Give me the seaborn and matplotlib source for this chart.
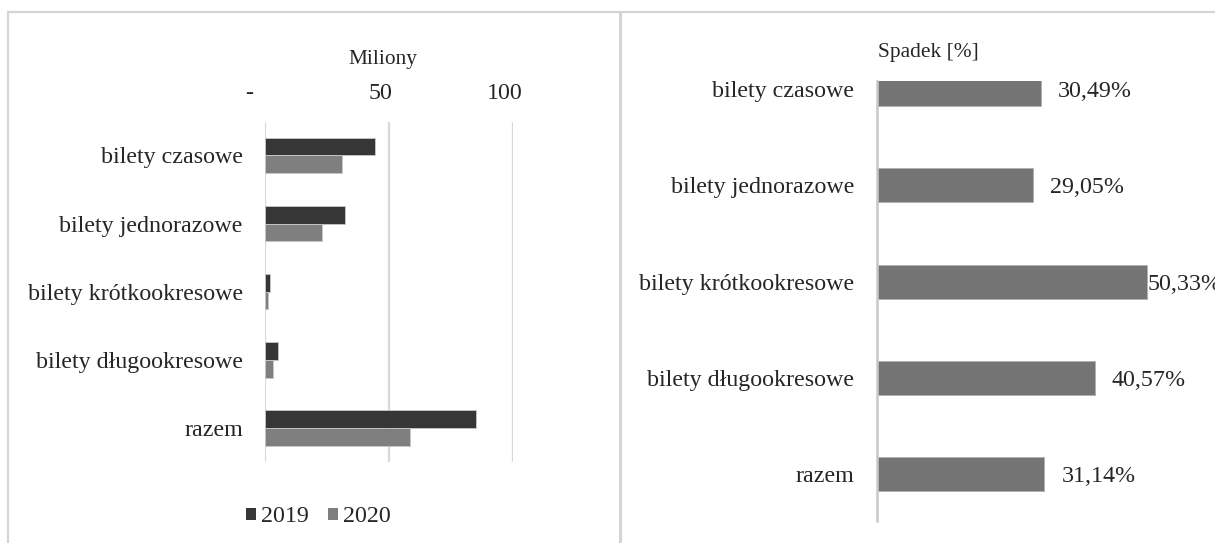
import matplotlib
matplotlib.use("Agg")
import matplotlib.pyplot as plt
from matplotlib.lines import Line2D
from matplotlib.patches import Patch
from matplotlib.transforms import ScaledTranslation
import seaborn as sns
import pandas as pd

# Liczba sprzedanych biletów (mln) oraz spadek 2020 względem 2019
kategorie = ["bilety czasowe", "bilety jednorazowe", "bilety krótkookresowe",
             "bilety długookresowe", "razem"]
sprzedaz_2019 = [44.5, 32.2, 2.1, 5.1, 84.9]
sprzedaz_2020 = [30.9, 22.8, 1.04, 3.03, 58.5]
spadek_proc = [30.49, 29.05, 50.33, 40.57, 31.14]
lata = ["2019", "2020"]
ticki_x = [0, 50, 100]
etykiety_x = ["-", "50", "100"]

sns.set_style("white")
plt.rcParams["font.family"] = ["Liberation Serif", "DejaVu Serif"]
plt.rcParams["text.color"] = "#262626"

FS = 17.3
FS_TYT = 15.4
KOLORY = {"2019": "#363636", "2020": "#7f7f7f"}
KOLOR_SPADEK = "#747474"
SZARY = "#d9d9d9"

W, H = 1215, 543
fig = plt.figure(figsize=(W / 100, H / 100), dpi=100)


def px_box(x0, x1, y_top, y_bot):
    return [x0 / W, 1 - y_bot / H, (x1 - x0) / W, (y_bot - y_top) / H]


# ---- panel lewy: sprzedaż w milionach ----
ax1 = fig.add_axes(px_box(265, 513.3, 122, 462))
df = pd.DataFrame({
    "kategoria": kategorie * 2,
    "rok": [lata[0]] * len(kategorie) + [lata[1]] * len(kategorie),
    "wartosc": sprzedaz_2019 + sprzedaz_2020,
})
sns.barplot(data=df, x="wartosc", y="kategoria", hue="rok", hue_order=lata,
            palette=KOLORY, orient="h", width=0.52, gap=0, ax=ax1,
            edgecolor="#c8c8c8", linewidth=0.6, legend=False, zorder=3)
ax1.set_xlim(0, 100)
ax1.set_ylim(4.5, -0.49)
ax1.xaxis.tick_top()
ax1.set_xticks(ticki_x)
ax1.set_xticklabels(etykiety_x, fontsize=FS)
ax1.tick_params(axis="x", length=0, pad=13)
ax1.tick_params(axis="y", length=0, pad=16, labelsize=FS)
for lab in ax1.get_yticklabels():
    lab.set_verticalalignment("center_baseline")
ax1.set_xlabel("")
ax1.set_ylabel("")
for s in ax1.spines.values():
    s.set_visible(False)
ax1.grid(axis="x", color=SZARY, linewidth=1.6, zorder=0)
ax1.grid(axis="y", visible=False)
for lab in ax1.get_xticklabels():
    dx = -16 if lab.get_text() == "-" else -9
    lab.set_transform(lab.get_transform() + ScaledTranslation(dx / 100, 0, fig.dpi_scale_trans))

fig.text(383 / W, 1 - 60 / H, "Miliony", fontsize=FS_TYT, ha="center", va="center")

uchwyty = [Patch(facecolor=KOLORY[r], edgecolor="none", label=r) for r in lata]
fig.legend(handles=uchwyty, loc="center", bbox_to_anchor=(318 / W, 1 - 517 / H),
           ncol=2, frameon=False, fontsize=FS, handlelength=0.42, handleheight=0.42,
           handletextpad=0.2, columnspacing=0.8)

# ---- panel prawy: spadek procentowy ----
ax2 = fig.add_axes(px_box(876.7, 1215, 81, 521))
sns.barplot(x=spadek_proc, y=kategorie, color=KOLOR_SPADEK, orient="h",
            width=0.353, ax=ax2, edgecolor="#b0b0b0", linewidth=0.6, zorder=3)
ax2.set_xlim(0, 62.9)
ax2.set_ylim(4.489, -0.086)
ax2.set_xticks([])
ax2.tick_params(axis="y", length=0, pad=16, labelsize=FS)
for lab in ax2.get_yticklabels():
    lab.set_verticalalignment("center_baseline")
ax2.set_xlabel("")
ax2.set_ylabel("")
for nazwa, s in ax2.spines.items():
    s.set_visible(nazwa == "left")
ax2.spines["left"].set_color("#c8c8c8")
ax2.spines["left"].set_linewidth(1.8)
ax2.spines["left"].set_zorder(4)

fig.text(878 / W, 1 - 53 / H, "Spadek [%]", fontsize=FS_TYT, ha="left", va="center")

etykiety = []
for i, v in enumerate(spadek_proc):
    tekst = f"{v:.2f}".replace(".", ",") + "%"
    t = ax2.annotate(tekst, xy=(v, i), xytext=(12.3, 0), textcoords="offset points",
                     ha="left", va="center_baseline", fontsize=FS, annotation_clip=False)
    etykiety.append(t)

# etykieta wychodząca poza obszar wykresu przesuwana do końca słupka
fig.canvas.draw()
r = fig.canvas.get_renderer()
prawa = ax2.get_window_extent(r).x1
for t in etykiety:
    if t.get_window_extent(r).x1 > prawa:
        t.set_position((0, 0))

# ---- ramki paneli ----
ramka = dict(color="#d4d4d4", transform=fig.transFigure, zorder=10)
fig.add_artist(Line2D([8 / W, 1], [1 - 12 / H, 1 - 12 / H], linewidth=1.6, **ramka))
fig.add_artist(Line2D([8 / W, 8 / W], [0, 1 - 12 / H], linewidth=1.6, **ramka))
fig.add_artist(Line2D([619.5 / W, 619.5 / W], [0, 1 - 12 / H], linewidth=2.2, **ramka))

fig.savefig("out.png", dpi=100, facecolor="white")
